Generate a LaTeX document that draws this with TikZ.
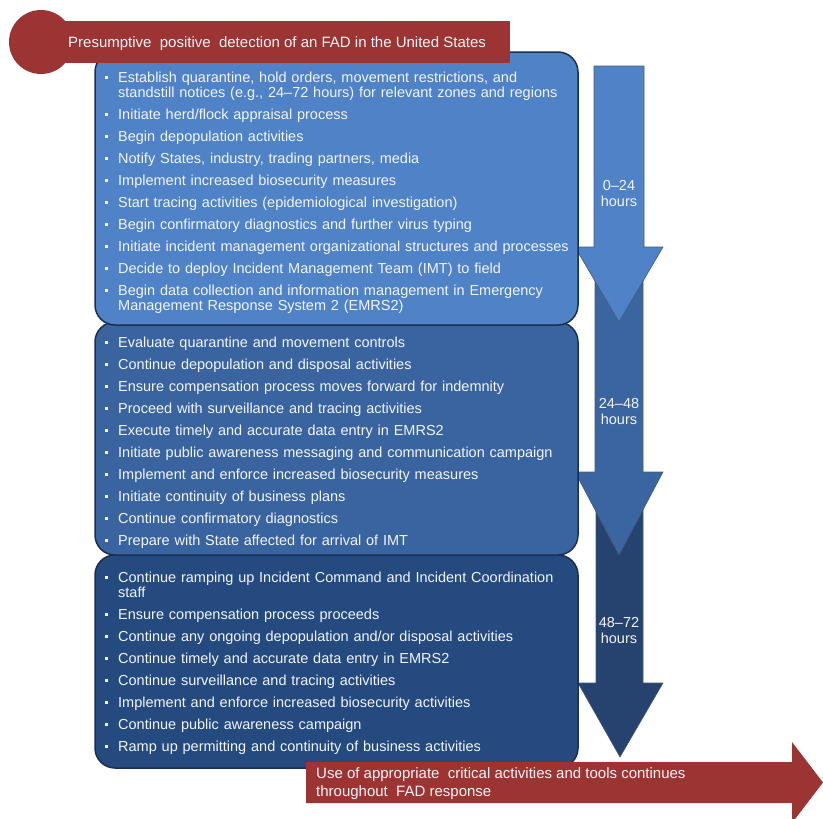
\documentclass[tikz,border=0pt]{standalone}
\usepackage{fontspec}
\setmainfont{Liberation Sans}
\usepackage{enumitem}
\definecolor{bluea}{HTML}{4F82C6}
\definecolor{blueb}{HTML}{3A64A0}
\definecolor{bluec}{HTML}{244A80}
\definecolor{arrowb}{HTML}{3A65A0}
\definecolor{arrowc}{HTML}{26426E}
\definecolor{navy}{HTML}{1A2F55}
\definecolor{fadred}{HTML}{9B3432}
\definecolor{txt}{HTML}{F2F5FA}
\newcommand\sqbul{\raisebox{3.5pt}{\rule{3pt}{3pt}}}
\newcommand\itm{\item\strut}
\newcommand\listfont{\fontsize{14.5}{15}\selectfont\lineskiplimit=-8pt\lineskip=0pt}
\setlist[itemize]{label=\sqbul, leftmargin=12pt, labelsep=10pt, itemsep=7pt, topsep=0pt, parsep=0pt, partopsep=0pt}
\begin{document}
\begin{tikzpicture}[x=1pt,y=-1pt,
  panel/.style={draw=navy, line width=1.5pt, rounded corners=20pt},
  itemtext/.style={anchor=north west, inner sep=0pt, text=txt, text width=475pt, align=left, font=\listfont},
  hrs/.style={text=txt, align=center, font=\fontsize{14.5}{16}\selectfont, inner sep=0pt},
  timearrow/.style={draw=navy!80, line width=0.6pt},
  redtext/.style={text=txt, font=\fontsize{15}{18}\selectfont, inner sep=0pt, anchor=north west, align=left}
]
\useasboundingbox (0,0) rectangle (823,819);

% time arrows (back to front)
\path[timearrow, fill=arrowc] (596,475) -- (643,475) -- (643,683) -- (663,683) -- (620,757) -- (578,683) -- (596,683) -- cycle;
\path[timearrow, fill=arrowb] (595,250) -- (643,250) -- (643,472) -- (663,472) -- (619,555) -- (575,472) -- (595,472) -- cycle;
\path[timearrow, fill=bluea] (594,66) -- (644,66) -- (644,247) -- (663,247) -- (619,322) -- (575,247) -- (594,247) -- cycle;
\node[hrs] (h1) at (619,194) {0–24\\hours};
\node[hrs] (h2) at (619,412) {24–48\\hours};
\node[hrs] (h3) at (619,631) {48–72\\hours};

% panels (back to front)
\path[panel, fill=bluec] (95,555) rectangle (578,768);
\path[panel, fill=blueb] (95,322) rectangle (578,555);
\path[panel, fill=bluea] (95,52) rectangle (578,325);

% top banner
\fill[fadred] (41,21) rectangle (510,63);
\fill[fadred] (41,42) circle (32);
\node[text=txt, font=\fontsize{15}{16}\selectfont, anchor=base west, inner sep=0pt] (top) at (68,47.5) {Presumptive\ \ positive\ \ detection of an FAD in the United States};

% panel texts
\node[itemtext] (t1) at (106,67.5) {\begin{itemize}
\itm Establish quarantine, hold orders, movement restrictions, and\newline standstill notices (e.g., 24–72 hours) for relevant zones and regions
\itm Initiate herd/flock appraisal process
\itm Begin depopulation activities
\itm Notify States, industry, trading partners, media
\itm Implement increased biosecurity measures
\itm Start tracing activities (epidemiological investigation)
\itm Begin confirmatory diagnostics and further virus typing
\itm Initiate incident management organizational structures and processes
\itm Decide to deploy Incident Management Team (IMT) to field
\itm Begin data collection and information management in Emergency\newline Management Response System 2 (EMRS2)
\end{itemize}};

\node[itemtext] (t2) at (106,332.5) {\begin{itemize}
\itm Evaluate quarantine and movement controls
\itm Continue depopulation and disposal activities
\itm Ensure compensation process moves forward for indemnity
\itm Proceed with surveillance and tracing activities
\itm Execute timely and accurate data entry in EMRS2
\itm Initiate public awareness messaging and communication campaign
\itm Implement and enforce increased biosecurity measures
\itm Initiate continuity of business plans
\itm Continue confirmatory diagnostics
\itm Prepare with State affected for arrival of IMT
\end{itemize}};

\node[itemtext] (t3) at (106,567.5) {\begin{itemize}
\itm Continue ramping up Incident Command and Incident Coordination\newline staff
\itm Ensure compensation process proceeds
\itm Continue any ongoing depopulation and/or disposal activities
\itm Continue timely and accurate data entry in EMRS2
\itm Continue surveillance and tracing activities
\itm Implement and enforce increased biosecurity activities
\itm Continue public awareness campaign
\itm Ramp up permitting and continuity of business activities
\end{itemize}};

% bottom red arrow
\fill[fadred] (306,762) -- (792,762) -- (792,742) -- (823,782.5) -- (792,823) -- (792,803) -- (306,803) -- cycle;
\node[redtext] (bot) at (316,766) {\strut Use of appropriate\ \ critical activities and tools continues\\throughout\ \ FAD response};
\end{tikzpicture}
\end{document}
